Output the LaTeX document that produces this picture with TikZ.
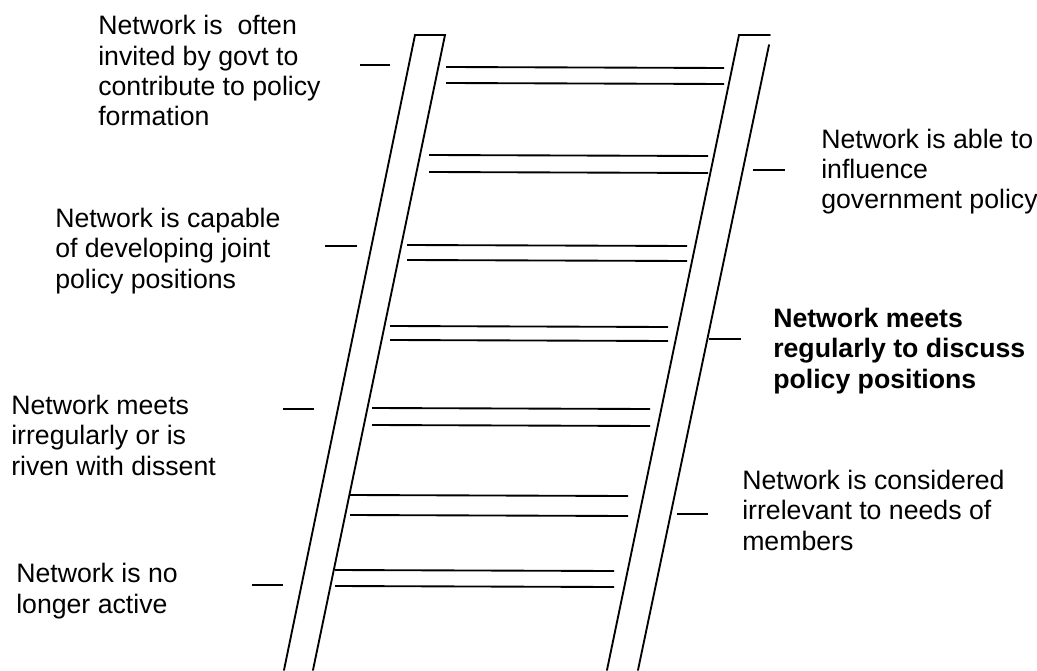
\documentclass[tikz,border=0pt]{standalone}
\usepackage{fontspec}
\setmainfont{Liberation Sans}
\begin{document}
\begin{tikzpicture}[x=0.75pt,y=-0.75pt,
  rail/.style={line width=1.4pt, line cap=round},
  rung/.style={line width=1.4pt},
  tick/.style={line width=1.2pt},
  lbl/.style={anchor=base west, inner sep=0pt, align=left,
    font=\fontsize{20pt}{22.8pt}\selectfont}]
\useasboundingbox (0,0) rectangle (1037,670);
% rails
\draw[rail] (284,670) -- (415,35) -- (445,35) -- (313,670);
\draw[rail] (607,670) -- (739,35) -- (770,35);
\draw[rail] (769,45) -- (638,670);
% rungs
\foreach \ya/\yb/\xl/\xr in {67/83/446/724, 155/172/429/708, 245/260/407/687,
  326/340/390/668, 408/425/372/650, 495/515/350/628, 570/586/335/614}{
  \draw[rung] (\xl,\ya) -- (\xr,\ya+1);
  \draw[rung] (\xl,\yb) -- (\xr,\yb+1);
}
% ticks
\draw[tick] (360,65) -- (390,65);
\draw[tick] (753,170) -- (785,170);
\draw[tick] (325,246) -- (357,246);
\draw[tick] (709,339) -- (741,339);
\draw[tick] (283,409) -- (314,409);
\draw[tick] (677,514) -- (708,514);
\draw[tick] (252,585) -- (283,585);
% labels (anchor at baseline of last line)
\node[lbl] (t1) at (98,126) {Network is\ \ often\\invited by govt to\\contribute to policy\\formation};
\node[lbl] (t2) at (55,288) {Network is capable\\of developing joint\\policy positions};
\node[lbl] (t3) at (11,475) {Network meets\\irregularly or is\\riven with dissent};
\node[lbl] (t4) at (16,613) {Network is no\\longer active};
\node[lbl] (r1) at (821,209) {Network is able to\\influence\\government policy};
\node[lbl, font=\fontsize{20pt}{22.8pt}\selectfont\bfseries] (r2) at (773,388) {Network meets\\regularly to discuss\\policy positions};
\node[lbl] (r3) at (742,550) {Network is considered\\irrelevant to needs of\\members};
\end{tikzpicture}
\end{document}
